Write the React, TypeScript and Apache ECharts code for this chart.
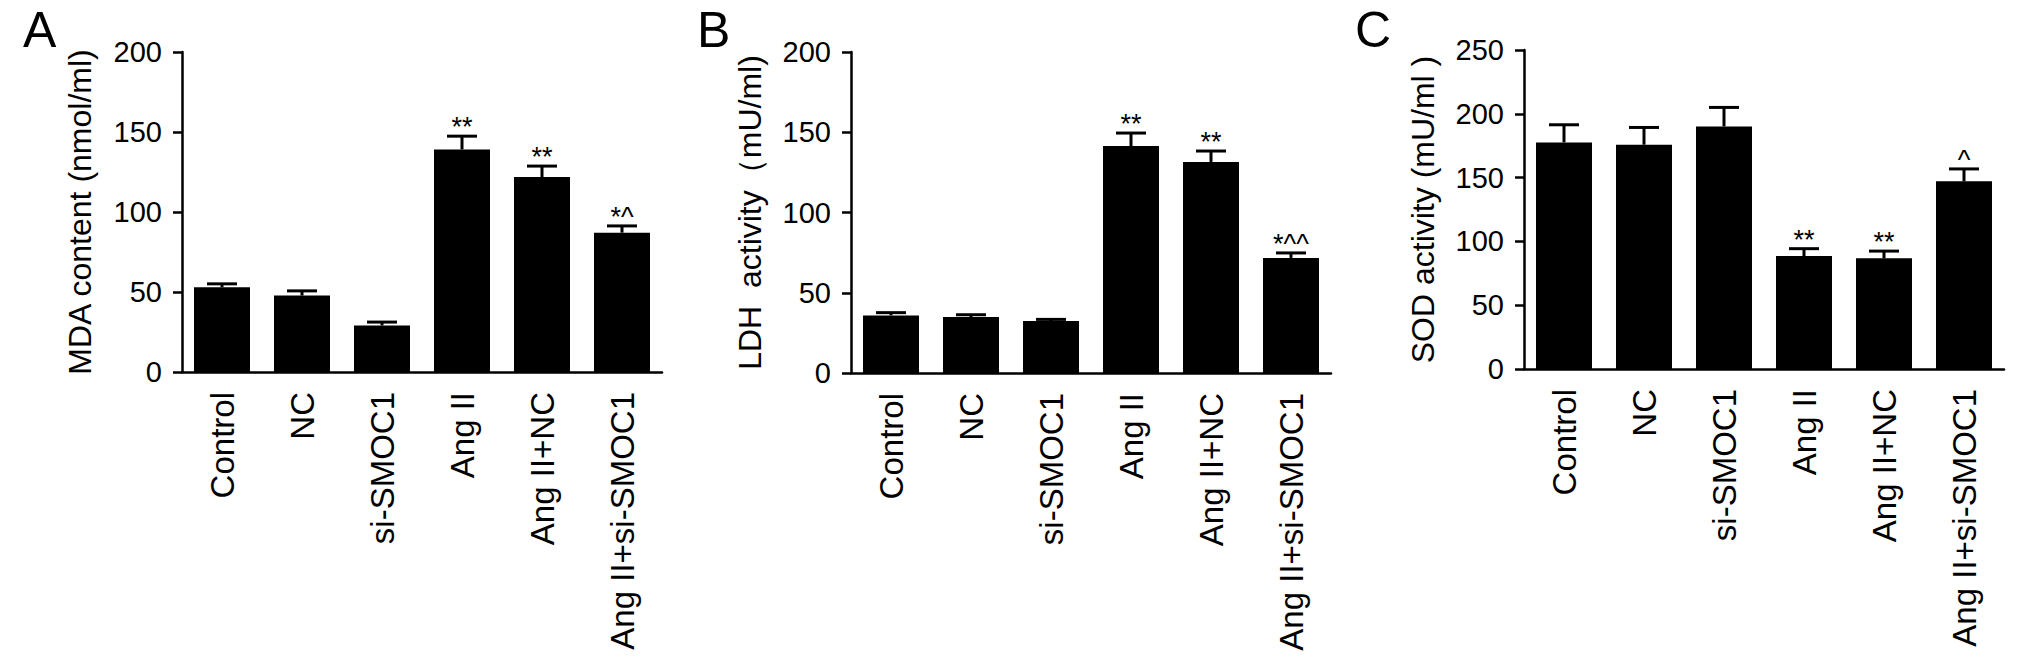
import React, { useEffect, useRef } from "react";
import * as echarts from "echarts";

const categories = ["Control", "NC", "si-SMOC1", "Ang II", "Ang II+NC", "Ang II+si-SMOC1"];

const mdaValues = [53, 47.8, 29.1, 139.1, 121.8, 87.1];
const mdaErrors = [2.1, 2.9, 2.1, 8.3, 6.9, 4.2];
const mdaMarks = ["", "", "", "**", "**", "*^"];

const ldhValues = [35.9, 34.9, 32.4, 141.4, 131.5, 71.7];
const ldhErrors = [1.7, 1.4, 1.0, 8.1, 6.8, 3.1];
const ldhMarks = ["", "", "", "**", "**", "*^^"];

const sodValues = [177.6, 175.8, 190.1, 88.5, 86.7, 147.1];
const sodErrors = [13.8, 13.5, 14.9, 5.8, 5.7, 9.7];
const sodMarks = ["", "", "", "**", "**", "^"];

const panelLetters = ["A", "B", "C"];
const axisTitles = ["MDA content (nmol/ml)", "LDH  activity（mU/ml)", "SOD activity (mU/ml )"];
const yMaxes = [200, 200, 250];
const yStep = 50;

const FONT = "'Liberation Sans', Arial, Helvetica, sans-serif";

export default function App() {
  const ref = useRef<HTMLDivElement>(null);

  useEffect(() => {
    if (!ref.current) return;
    const chart = echarts.init(ref.current, null, { renderer: "svg" });

    const panels = [
      { values: mdaValues, errors: mdaErrors, marks: mdaMarks, grid: { left: 182, top: 52, width: 480, height: 320 }, gap: 86 },
      { values: ldhValues, errors: ldhErrors, marks: ldhMarks, grid: { left: 851, top: 52, width: 480, height: 321 }, gap: 85 },
      { values: sodValues, errors: sodErrors, marks: sodMarks, grid: { left: 1524, top: 50, width: 480, height: 319 }, gap: 85 },
    ];

    const axisLineStyle = { color: "#000", width: 2.5 };

    const grids = panels.map((p) => ({ ...p.grid }));
    const xAxes = panels.map((p, i) => ({
      type: "category",
      gridIndex: i,
      data: categories,
      axisLine: { lineStyle: axisLineStyle },
      axisTick: { alignWithLabel: true, length: 9, lineStyle: axisLineStyle },
      axisLabel: {
        rotate: 90,
        interval: 0,
        margin: 20,
        color: "#000",
        fontSize: 33,
        fontFamily: FONT,
      },
    }));
    const yAxes = panels.map((p, i) => ({
      type: "value",
      gridIndex: i,
      min: 0,
      max: yMaxes[i],
      interval: yStep,
      name: axisTitles[i],
      nameLocation: "middle",
      nameGap: p.gap,
      nameTextStyle: { color: "#000", fontSize: 32, fontFamily: FONT },
      axisLine: { show: true, lineStyle: axisLineStyle },
      axisTick: { show: true, length: 9, lineStyle: axisLineStyle },
      splitLine: { show: false },
      axisLabel: { color: "#000", fontSize: 29, fontFamily: FONT, margin: 20 },
    }));

    const series: any[] = [];
    panels.forEach((p, i) => {
      series.push({
        type: "bar",
        xAxisIndex: i,
        yAxisIndex: i,
        data: p.values,
        barWidth: 56,
        itemStyle: { color: "#000" },
        z: 2,
      });
      series.push({
        type: "custom",
        xAxisIndex: i,
        yAxisIndex: i,
        z: 3,
        data: p.values.map((v, k) => [k, v, p.errors[k]]),
        renderItem: (params: any, api: any) => {
          const idx = api.value(0);
          const v = api.value(1);
          const e = api.value(2);
          const base = api.coord([idx, v]);
          const top = api.coord([idx, v + e]);
          const capHalf = 15;
          const style = { stroke: "#000", lineWidth: 3 };
          const children: any[] = [
            { type: "line", shape: { x1: base[0], y1: base[1], x2: top[0], y2: top[1] }, style },
            { type: "line", shape: { x1: top[0] - capHalf, y1: top[1], x2: top[0] + capHalf, y2: top[1] }, style },
          ];
          const mark = p.marks[params.dataIndex];
          if (mark) {
            children.push({
              type: "text",
              x: top[0],
              y: top[1] - 9,
              style: {
                text: mark,
                fill: "#000",
                fontSize: 27,
                fontFamily: FONT,
                align: "center",
                verticalAlign: "middle",
              },
            });
          }
          return { type: "group", children };
        },
      });
    });

    const letterX = [23, 697, 1355];
    const graphic = panelLetters.map((t, i) => ({
      type: "text",
      left: letterX[i],
      top: 5,
      style: { text: t, fill: "#000", fontSize: 50, fontFamily: FONT },
    }));

    chart.setOption({
      animation: false,
      backgroundColor: "#fff",
      grid: grids,
      xAxis: xAxes,
      yAxis: yAxes,
      series,
      graphic,
    });

    return () => chart.dispose();
  }, []);

  return (
    <div
      ref={ref}
      style={{ position: "absolute", left: 0, top: 0, width: 2031, height: 661 }}
    />
  );
}
